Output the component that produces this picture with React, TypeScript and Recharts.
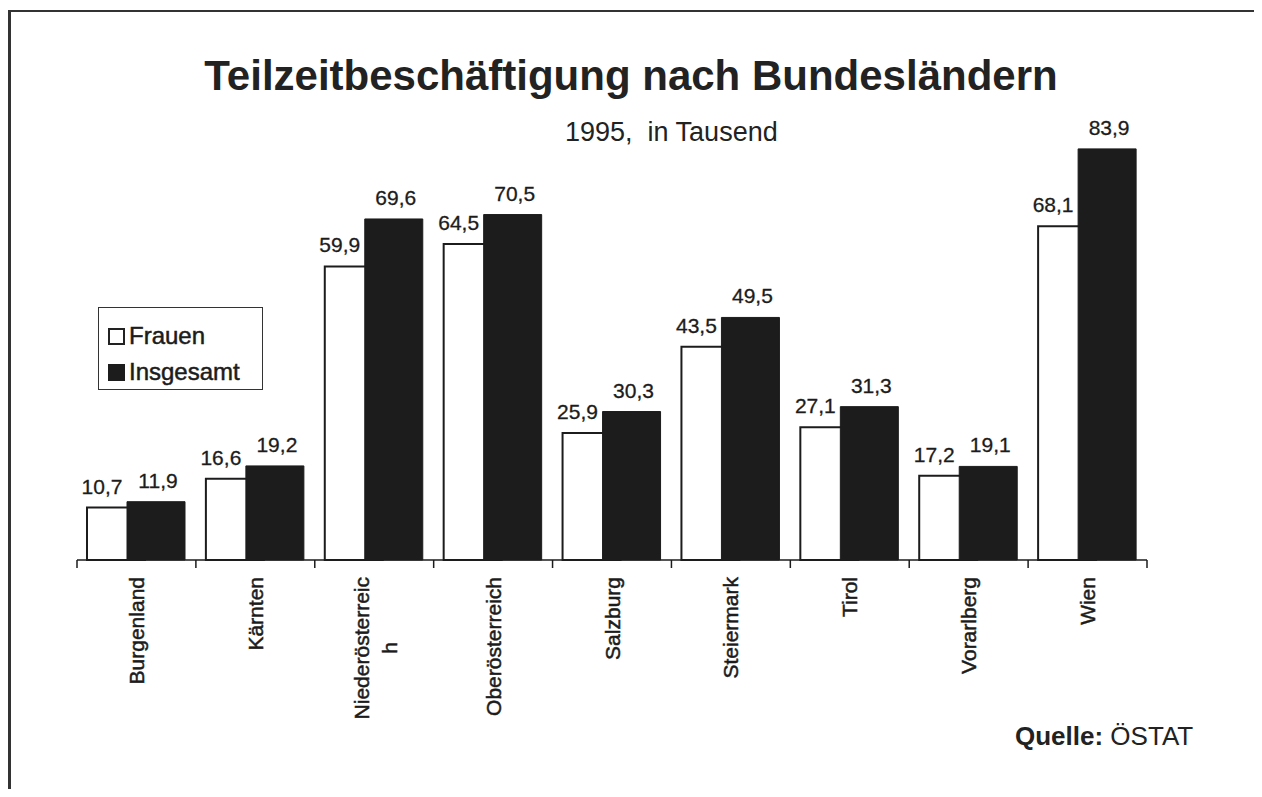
import React from "react";
import { BarChart, Bar, XAxis, YAxis, Legend, LabelList } from "recharts";

const categories = [
  "Burgenland",
  "Kärnten",
  "Niederösterreich",
  "Oberösterreich",
  "Salzburg",
  "Steiermark",
  "Tirol",
  "Vorarlberg",
  "Wien",
];
// the scan wraps the long name onto two lines
const tickLabels = [
  ["Burgenland"],
  ["Kärnten"],
  ["Niederösterreic", "h"],
  ["Oberösterreich"],
  ["Salzburg"],
  ["Steiermark"],
  ["Tirol"],
  ["Vorarlberg"],
  ["Wien"],
];
const frauen = [10.7, 16.6, 59.9, 64.5, 25.9, 43.5, 27.1, 17.2, 68.1];
const insgesamt = [11.9, 19.2, 69.6, 70.5, 30.3, 49.5, 31.3, 19.1, 83.9];

const data = categories.map((name, i) => ({
  name,
  frauen: frauen[i],
  insgesamt: insgesamt[i],
}));

const W = 1262;
const H = 797;
const M = { top: 119, right: 115, bottom: 77, left: 77 };
const BAND = (W - M.left - M.right) / categories.length;
const FONT = "'Liberation Sans', Arial, sans-serif";
const INK = "#1c1c1c";

const fmt = (v: number) => v.toFixed(1).replace(".", ",");

const CategoryTick = (props: any) => {
  const { x, y, index } = props;
  const lines = tickLabels[index] || [props.payload.value];
  const last = index === categories.length - 1;
  return (
    <g>
      <line x1={x - BAND / 2} x2={x - BAND / 2} y1={y} y2={y + 8} stroke={INK} strokeWidth={1.5} />
      {last && (
        <line x1={x + BAND / 2} x2={x + BAND / 2} y1={y} y2={y + 8} stroke={INK} strokeWidth={1.5} />
      )}
      {lines.map((t: string, i: number) => {
        const multi = lines.length > 1;
        const bx = multi ? x - 5.5 + i * 28 : x + 7.5;
        const by = i === 0 ? y + 17 : y + 88;
        return (
          <text
            key={i}
            x={bx}
            y={by}
            transform={`rotate(-90, ${bx}, ${by})`}
            textAnchor={i === 0 ? "end" : "middle"}
            fontSize={21}
            fontFamily={FONT}
            fill={INK}
            stroke={INK}
            strokeWidth={0.5}
          >
            {t}
          </text>
        );
      })}
    </g>
  );
};

const valueLabel = (dx: number) => (props: any) => {
  const { x, y, width, value } = props;
  return (
    <text
      x={x + width / 2 + dx}
      y={y - 14}
      textAnchor="middle"
      fontSize={21}
      fontFamily={FONT}
      fill={INK}
      stroke={INK}
      strokeWidth={0.3}
    >
      {fmt(value)}
    </text>
  );
};

const LegendBox = () => (
  <div
    style={{
      border: "1.5px solid #333",
      width: 165,
      height: 83,
      boxSizing: "border-box",
      fontFamily: FONT,
      fontSize: 24,
      color: INK,
      WebkitTextStroke: "0.5px #1c1c1c",
      padding: "10px 0 0 9px",
      lineHeight: "36px",
      background: "#fff",
    }}
  >
    <div style={{ display: "flex", alignItems: "center" }}>
      <span style={{ width: 17, height: 17, border: "2px solid #222", boxSizing: "border-box", marginRight: 4 }} />
      Frauen
    </div>
    <div style={{ display: "flex", alignItems: "center" }}>
      <span style={{ width: 17, height: 17, background: INK, marginRight: 4 }} />
      Insgesamt
    </div>
  </div>
);

export default function App() {
  return (
    <div style={{ position: "relative", width: W, height: H, margin: -8, background: "#fff", overflow: "hidden" }}>
      <div style={{ position: "absolute", left: 9, top: 10, width: W - 9, height: 2, background: "#333" }} />
      <div style={{ position: "absolute", left: 8, top: 10, width: 3, height: H - 10, background: "#333" }} />
      <div style={{ position: "absolute", left: 10, top: 795, width: W - 10, height: 1, background: "#ccc" }} />
      <div
        style={{
          position: "absolute",
          left: 0,
          width: 1262,
          top: 52,
          textAlign: "center",
          fontFamily: FONT,
          fontWeight: "bold",
          fontSize: 42,
          color: "#222",
        }}
      >
        Teilzeitbeschäftigung nach Bundesländern
      </div>
      <div
        style={{
          position: "absolute",
          left: 565,
          top: 117,
          fontFamily: FONT,
          fontSize: 27,
          color: "#222",
          whiteSpace: "pre",
        }}
      >
        1995,  in Tausend
      </div>
      <div
        style={{
          position: "absolute",
          left: 1015,
          top: 721,
          fontFamily: FONT,
          fontSize: 26,
          color: "#222",
        }}
      >
        <b>Quelle:</b> ÖSTAT
      </div>
      <div style={{ position: "absolute", left: 0, top: 0 }}>
        <BarChart width={W} height={H} data={data} margin={M} barSize={58} barGap={-18}>
          <XAxis
            dataKey="name"
            interval={0}
            tickLine={false}
            tickSize={0}
            tickMargin={0}
            height={160}
            axisLine={{ stroke: INK, strokeWidth: 1.5 }}
            tick={<CategoryTick />}
          />
          <YAxis hide domain={[0, 90]} />
          <Legend
            layout="vertical"
            align="center"
            verticalAlign="middle"
            wrapperStyle={{ left: 98, top: 307, width: 165, height: 83 }}
            content={() => <LegendBox />}
          />
          <Bar dataKey="frauen" name="Frauen" fill="#fff" stroke={INK} strokeWidth={2} isAnimationActive={false}>
            <LabelList dataKey="frauen" content={valueLabel(-14)} />
          </Bar>
          <Bar dataKey="insgesamt" name="Insgesamt" fill={INK} stroke={INK} strokeWidth={1} isAnimationActive={false}>
            <LabelList dataKey="insgesamt" content={valueLabel(2)} />
          </Bar>
        </BarChart>
      </div>
    </div>
  );
}
